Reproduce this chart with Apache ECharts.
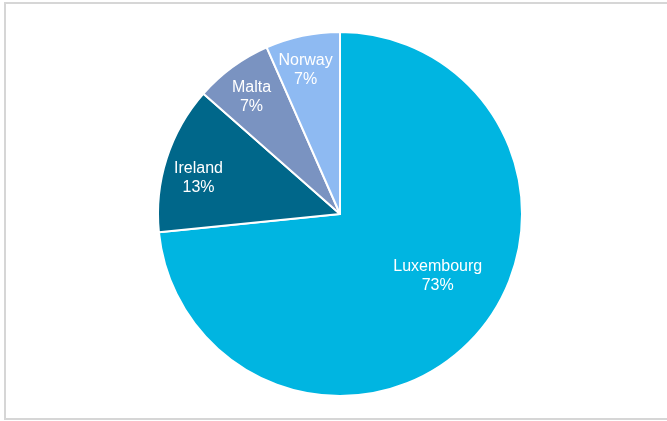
<!DOCTYPE html>
<html>
<head>
<meta charset="utf-8">
<script src="https://cdn.jsdelivr.net/npm/echarts@6/dist/echarts.min.js"></script>
<style>html,body{margin:0;padding:0;background:#fff}#c{width:667px;height:421px}</style>
</head>
<body>
<div id="c"></div>
<script>
const categories = ['Luxembourg', 'Ireland', 'Malta', 'Norway'];
const values = [73.4, 13.1, 6.9, 6.6];
const colors = ['#00B5E1', '#00678A', '#7A93C1', '#8EBAF2'];
const labelShift = [[28, -1], [-52, -7], [-33, -41], [-15, -52]];

const chart = echarts.init(document.getElementById('c'), null, {renderer: 'canvas'});
chart.setOption({
  animation: false,
  graphic: [{
    type: 'rect',
    shape: {x: 5, y: 3, width: 700, height: 416},
    style: {fill: 'none', stroke: '#d6d6d6', lineWidth: 2},
    silent: true
  }],
  series: [{
    type: 'pie',
    center: [340, 214],
    radius: 182,
    startAngle: 90,
    clockwise: true,
    percentPrecision: 0,
    itemStyle: {borderColor: '#ffffff', borderWidth: 2},
    label: {
      show: true,
      position: 'inside',
      formatter: '{b}\n{d}%',
      color: '#ffffff',
      fontFamily: 'Liberation Sans, Arial, sans-serif',
      fontSize: 16,
      lineHeight: 19,
      align: 'center'
    },
    labelLayout: function (p) {
      const s = labelShift[p.dataIndex];
      return {dx: s[0], dy: s[1]};
    },
    labelLine: {show: false},
    emphasis: {disabled: true},
    data: categories.map((c, i) => ({name: c, value: values[i], itemStyle: {color: colors[i]}}))
  }]
});
</script>
</body>
</html>
